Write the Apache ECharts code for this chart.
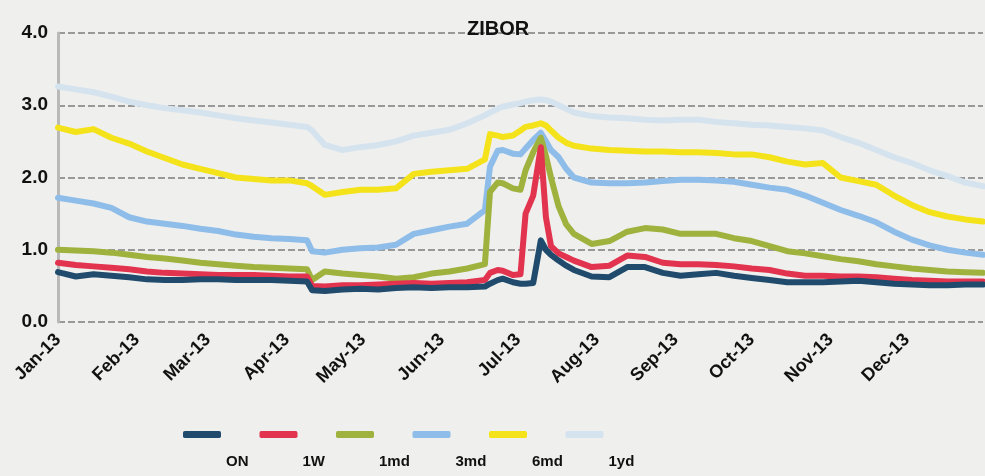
<!DOCTYPE html>
<html>
<head>
<meta charset="utf-8">
<script src="https://cdn.jsdelivr.net/npm/echarts@6/dist/echarts.min.js"></script>
<style>
  html, body { margin: 0; padding: 0; background: #efefed; }
  #container { width: 985px; height: 476px; }
</style>
</head>
<body>
<div id="container"></div>
<script>
var dom = document.getElementById('container');
var myChart = echarts.init(dom);

// sample dates (roughly weekly, denser around the July spike)
var dates = [
    '2013-01-01', '2013-01-08', '2013-01-15', '2013-01-22', '2013-01-29',
    '2013-02-05', '2013-02-12', '2013-02-19', '2013-02-26',
    '2013-03-05', '2013-03-12', '2013-03-19', '2013-03-26',
    '2013-04-02', '2013-04-09', '2013-04-11', '2013-04-16', '2013-04-23', '2013-04-30',
    '2013-05-07', '2013-05-14', '2013-05-21', '2013-05-28',
    '2013-06-04', '2013-06-11', '2013-06-18', '2013-06-20', '2013-06-23', '2013-06-25', '2013-06-29',
    '2013-07-02', '2013-07-04', '2013-07-07', '2013-07-10', '2013-07-12', '2013-07-14', '2013-07-17', '2013-07-20', '2013-07-23', '2013-07-30',
    '2013-08-06', '2013-08-13', '2013-08-20', '2013-08-27',
    '2013-09-03', '2013-09-10', '2013-09-17', '2013-09-24',
    '2013-10-01', '2013-10-08', '2013-10-15', '2013-10-22', '2013-10-29',
    '2013-11-05', '2013-11-12', '2013-11-19', '2013-11-26',
    '2013-12-03', '2013-12-10', '2013-12-17', '2013-12-24', '2013-12-31'
];

var onValues = [
    0.69, 0.63, 0.66, 0.64, 0.62,
    0.59, 0.58, 0.58, 0.59,
    0.59, 0.58, 0.58, 0.58,
    0.57, 0.56, 0.44, 0.43, 0.45, 0.46,
    0.45, 0.47, 0.48, 0.47,
    0.48, 0.48, 0.49, 0.53, 0.58, 0.60, 0.55,
    0.53, 0.53, 0.54, 1.13, 1.00, 0.93, 0.85, 0.78, 0.72, 0.63,
    0.62, 0.76, 0.76, 0.68,
    0.64, 0.66, 0.68, 0.64,
    0.61, 0.58, 0.55, 0.55, 0.55,
    0.56, 0.57, 0.55, 0.53,
    0.52, 0.51, 0.51, 0.52, 0.52
];
var w1Values = [
    0.82, 0.79, 0.77, 0.75, 0.73,
    0.70, 0.68, 0.67, 0.66,
    0.65, 0.65, 0.65, 0.64,
    0.63, 0.63, 0.50, 0.49, 0.51, 0.51,
    0.52, 0.53, 0.54, 0.53,
    0.54, 0.55, 0.58, 0.68, 0.72, 0.71, 0.65,
    0.66, 1.50, 1.75, 2.42, 1.45, 1.05, 0.95, 0.90, 0.85, 0.76,
    0.78, 0.92, 0.90, 0.82,
    0.80, 0.80, 0.79, 0.77,
    0.74, 0.72, 0.67, 0.64, 0.64,
    0.63, 0.63, 0.62, 0.60,
    0.58, 0.57, 0.56, 0.56, 0.56
];
var m1Values = [
    1.00, 0.99, 0.98, 0.96, 0.93,
    0.90, 0.88, 0.85, 0.82,
    0.80, 0.78, 0.76, 0.75,
    0.74, 0.73, 0.58, 0.70, 0.67, 0.65,
    0.63, 0.60, 0.62, 0.67,
    0.70, 0.74, 0.80, 1.80, 1.93, 1.92, 1.85,
    1.83, 2.10, 2.35, 2.55, 2.30, 2.00, 1.60, 1.35, 1.22, 1.08,
    1.12, 1.25, 1.30, 1.28,
    1.22, 1.22, 1.22, 1.16,
    1.12, 1.05, 0.98, 0.95, 0.91,
    0.87, 0.84, 0.80, 0.77,
    0.74, 0.72, 0.70, 0.69, 0.68
];
var m3Values = [
    1.72, 1.68, 1.64, 1.58, 1.45,
    1.39, 1.36, 1.33, 1.29,
    1.26, 1.21, 1.18, 1.16,
    1.15, 1.13, 0.98, 0.96, 1.00, 1.02,
    1.03, 1.07, 1.22, 1.27,
    1.32, 1.36, 1.55, 2.15, 2.37, 2.38, 2.33,
    2.32, 2.40, 2.52, 2.62, 2.50, 2.38, 2.28, 2.12, 2.00, 1.93,
    1.92, 1.92, 1.93, 1.95,
    1.97, 1.97, 1.96, 1.94,
    1.90, 1.86, 1.83, 1.75, 1.65,
    1.55, 1.47, 1.38, 1.25,
    1.14, 1.06, 1.00, 0.96, 0.93
];
var m6Values = [
    2.69, 2.63, 2.67, 2.55, 2.47,
    2.36, 2.27, 2.18, 2.12,
    2.06, 2.00, 1.98, 1.96,
    1.96, 1.92, 1.88, 1.76, 1.80, 1.83,
    1.83, 1.85, 2.05, 2.08,
    2.10, 2.12, 2.25, 2.60, 2.58, 2.56, 2.58,
    2.65, 2.70, 2.72, 2.75, 2.72, 2.65, 2.55, 2.48, 2.44, 2.40,
    2.38, 2.37, 2.36, 2.36,
    2.35, 2.35, 2.34, 2.32,
    2.32, 2.28, 2.22, 2.18, 2.20,
    2.00, 1.95, 1.90, 1.75,
    1.62, 1.52, 1.46, 1.42, 1.39
];
var y1Values = [
    3.26, 3.22, 3.18, 3.12, 3.05,
    3.00, 2.96, 2.93, 2.90,
    2.86, 2.82, 2.79, 2.76,
    2.73, 2.70, 2.65, 2.45, 2.38, 2.42,
    2.45, 2.50, 2.58, 2.62,
    2.66, 2.75, 2.86, 2.90, 2.95, 2.98, 3.01,
    3.03, 3.05, 3.07, 3.08, 3.07, 3.05, 3.00, 2.95, 2.90, 2.85,
    2.83, 2.82, 2.80, 2.79,
    2.80, 2.80, 2.77, 2.75,
    2.73, 2.72, 2.70, 2.68, 2.65,
    2.56, 2.48, 2.38, 2.28,
    2.20, 2.10, 2.02, 1.93, 1.88
];

var seriesNames = ['ON', '1W', '1md', '3md', '6md', '1yd'];
var seriesColors = ['#214b6c', '#e2344f', '#9fb23e', '#8fbde9', '#f4e31a', '#d5e3ef'];
var seriesValues = [onValues, w1Values, m1Values, m3Values, m6Values, y1Values];
var monthNames = ['Jan', 'Feb', 'Mar', 'Apr', 'May', 'Jun', 'Jul', 'Aug', 'Sep', 'Oct', 'Nov', 'Dec'];

var pairUp = function (vals) {
    return dates.map(function (d, i) {
        return [d, vals[i]];
    });
};

// draw the long rates first so ON / 1W end up on top
var series = [];
for (var i = seriesNames.length - 1; i >= 0; i--) {
    series.push({
        name: seriesNames[i],
        type: 'line',
        data: pairUp(seriesValues[i]),
        showSymbol: false,
        symbol: 'none',
        color: seriesColors[i],
        lineStyle: {
            width: 6,
            color: seriesColors[i],
            cap: 'round',
            join: 'round'
        },
        animation: false
    });
}

// one small legend per series so the items sit on an even pitch,
// label dropped below-right of its swatch like the original
var legends = seriesNames.map(function (name, i) {
    return {
        data: [name],
        left: 183 + i * 76.5,
        top: 431,
        padding: 0,
        itemWidth: 38,
        itemHeight: 7,
        icon: 'roundRect',
        formatter: function (n) {
            return '{t|' + n + '}';
        },
        textStyle: {
            rich: {
                t: {
                    fontFamily: 'Liberation Sans',
                    fontWeight: 'bold',
                    fontSize: 15,
                    color: '#111',
                    padding: [55, 0, 0, 0]
                }
            }
        }
    };
});

var option = {
    backgroundColor: '#efefed',
    title: {
        text: 'ZIBOR',
        left: 462,
        top: 14,
        textStyle: {
            fontFamily: 'Liberation Sans',
            fontWeight: 'bold',
            fontSize: 20,
            color: '#111'
        }
    },
    legend: legends,
    grid: {
        left: 58,
        right: 2,
        top: 33,
        bottom: 154
    },
    xAxis: {
        type: 'time',
        min: '2013-01-01',
        max: '2013-12-31',
        minInterval: 28 * 86400000,
        maxInterval: 31 * 86400000,
        axisLine: { show: false },
        axisTick: { show: false },
        splitLine: { show: false },
        axisLabel: {
            rotate: 45,
            margin: 15,
            showMaxLabel: false,
            fontFamily: 'Liberation Sans',
            fontWeight: 'bold',
            fontSize: 18,
            color: '#111',
            formatter: function (v) {
                var d = new Date(v);
                return monthNames[d.getMonth()] + '-13';
            }
        }
    },
    yAxis: {
        type: 'value',
        min: 0,
        max: 4,
        interval: 1,
        axisLine: {
            show: true,
            lineStyle: { color: '#b9b9b9', width: 3 }
        },
        axisTick: { show: false },
        splitLine: {
            lineStyle: { color: '#7d7d7d', width: 1.5, type: [7, 3] }
        },
        axisLabel: {
            margin: 10,
            fontFamily: 'Liberation Sans',
            fontWeight: 'bold',
            fontSize: 19,
            color: '#111',
            formatter: function (v) {
                return v.toFixed(1);
            }
        }
    },
    series: series
};

myChart.setOption(option);
</script>
</body>
</html>
